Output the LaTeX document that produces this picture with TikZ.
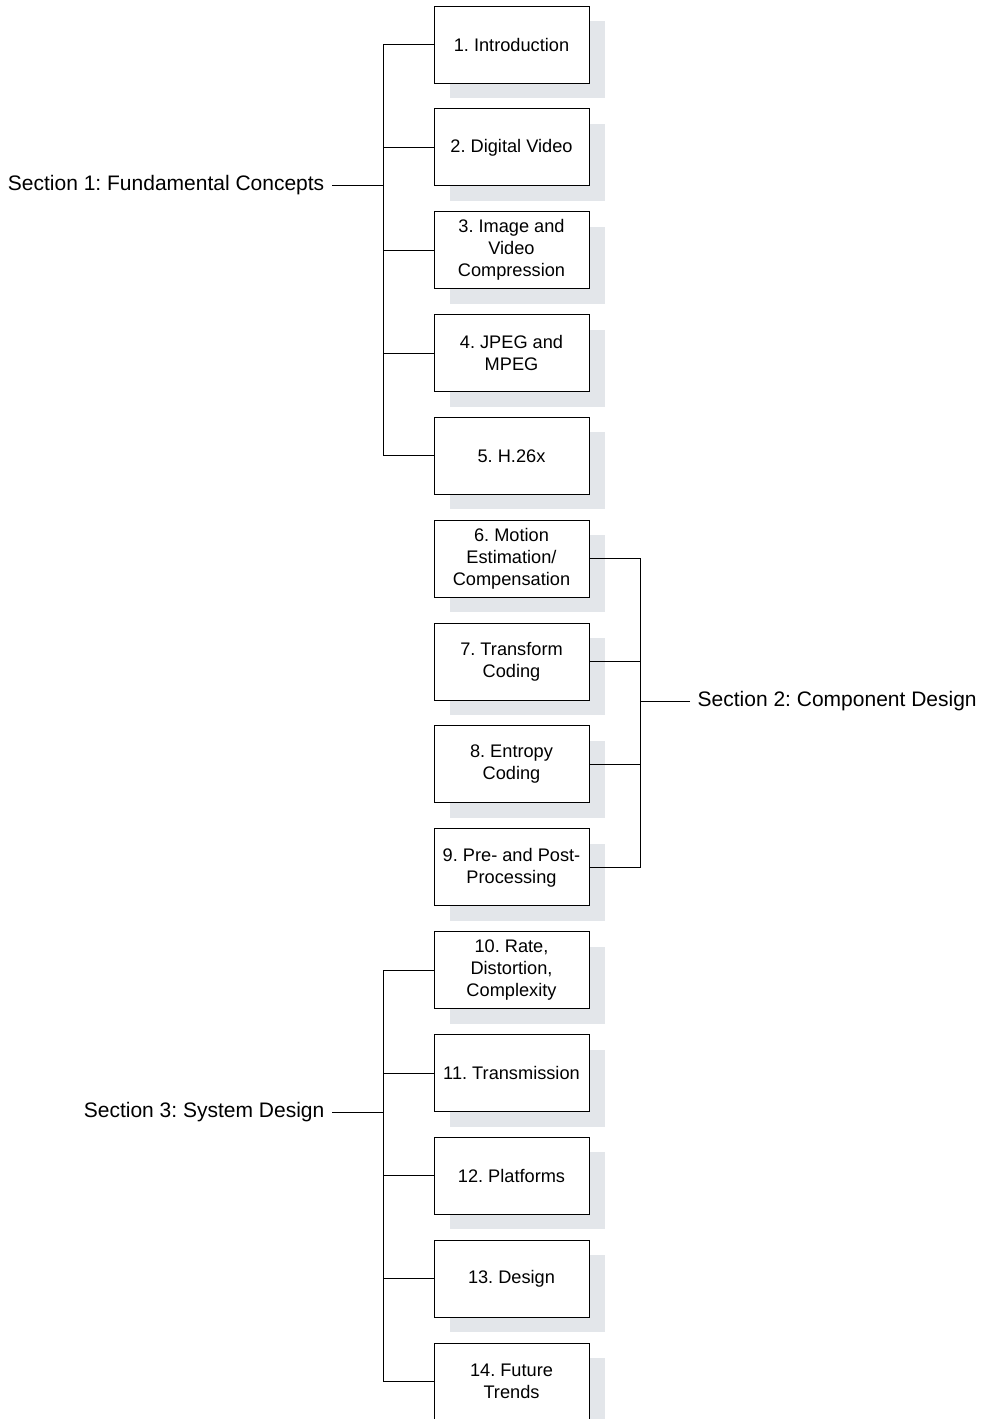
\documentclass[tikz,border=0pt]{standalone}
\usepackage{fontspec}
\setmainfont{Liberation Sans}
\definecolor{shadowgray}{RGB}{227,230,234}
\frenchspacing
\begin{document}
\begin{tikzpicture}[x=1pt,y=-1pt,
  chap/.style={draw=black, line width=1pt, fill=white, minimum width=155pt, minimum height=77pt,
    inner sep=0pt, align=center, font=\fontsize{18.2}{22}\selectfont},
  shade/.style={fill=shadowgray, draw=none},
  seclabel/.style={inner xsep=7.5pt, inner ysep=0pt, font=\fontsize{21}{25}\selectfont},
  conn/.style={draw=black, line width=0.9pt}]
\useasboundingbox (0,0) rectangle (986,1419);
\fill[white] (0,0) rectangle (986,1419);
% shadows
\foreach \i in {0,...,13}{
  \fill[shade] (450, {21+\i*102.85}) rectangle (605, {98+\i*102.85});
}
% boxes
\node[chap] (b1)  at (511.5, {44.5+0*102.85}) {1. Introduction};
\node[chap] (b2)  at (511.5, {44.5+1*102.85}) {2. Digital Video};
\node[chap] (b3)  at (511.5, {44.5+2*102.85}) {3. Image and\\Video\\Compression};
\node[chap] (b4)  at (511.5, {44.5+3*102.85}) {4. JPEG and\\MPEG};
\node[chap] (b5)  at (511.5, {44.5+4*102.85}) {5. H.26x};
\node[chap] (b6)  at (511.5, {44.5+5*102.85}) {6. Motion\\Estimation/\\Compensation};
\node[chap] (b7)  at (511.5, {44.5+6*102.85}) {7. Transform\\Coding};
\node[chap] (b8)  at (511.5, {44.5+7*102.85}) {8. Entropy\\Coding};
\node[chap] (b9)  at (511.5, {44.5+8*102.85}) {9. Pre- and Post-\\Processing};
\node[chap] (b10) at (511.5, {44.5+9*102.85}) {10. Rate,\\Distortion,\\Complexity};
\node[chap] (b11) at (511.5, {44.5+10*102.85}) {11. Transmission};
\node[chap] (b12) at (511.5, {44.5+11*102.85}) {12. Platforms};
\node[chap] (b13) at (511.5, {44.5+12*102.85}) {13. Design};
\node[chap] (b14) at (511.5, {44.5+13*102.85}) {14. Future\\Trends};
% section labels
\node[seclabel, anchor=east] (s1) at (332,185) {Section 1: Fundamental Concepts};
\node[seclabel, anchor=west] (s2) at (690,701) {Section 2: Component Design};
\node[seclabel, anchor=east] (s3) at (332,1112) {Section 3: System Design};
% junctions
\coordinate (j1) at (383,185);
\coordinate (j2) at (640,701);
\coordinate (j3) at (383,1112);
% connectors
\draw[conn] (s1.east) -- (j1);
\foreach \b in {b1,b2,b3,b4,b5}{ \draw[conn] (\b.west) -| (j1); }
\draw[conn] (s2.west) -- (j2);
\foreach \b in {b6,b7,b8,b9}{ \draw[conn] (\b.east) -| (j2); }
\draw[conn] (s3.east) -- (j3);
\foreach \b in {b10,b11,b12,b13,b14}{ \draw[conn] (\b.west) -| (j3); }
\end{tikzpicture}
\end{document}
